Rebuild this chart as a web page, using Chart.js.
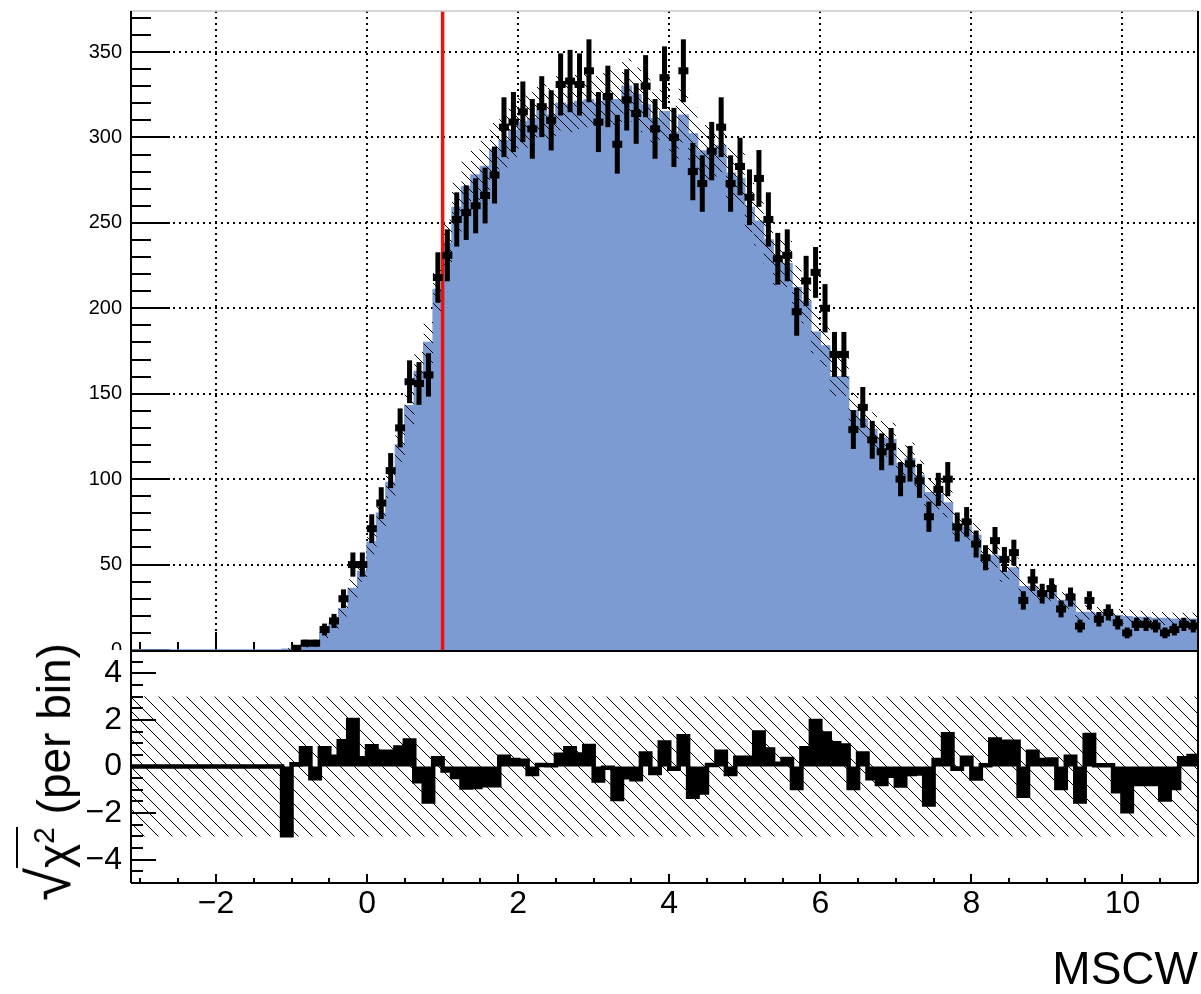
<!DOCTYPE html>
<html>
<head>
<meta charset="utf-8">
<script src="https://cdn.jsdelivr.net/npm/chart.js@4.4.0/dist/chart.umd.min.js"></script>
<style>
  body { margin: 0; background: #fff; }
  #wrap { position: relative; width: 1201px; height: 994px; overflow: hidden; background: #fff; }
  #top { position: absolute; left: 0; top: 0; }
  #bot { position: absolute; left: 0; top: 650px; }
  #yt { position: absolute; left: 54px; top: 772px; width: 0; height: 0; }
  #ytitle {
    position: absolute; left: 0; top: 0;
    transform: translate(-50%, -50%) rotate(-90deg);
    white-space: nowrap; color: #000;
    font-family: 'Liberation Sans', Arial, Helvetica, sans-serif;
    font-size: 46px; line-height: 46px;
  }
  #ytitle .rad { font-size: 60px; line-height: 0; }
  #ytitle .ov { border-top: 2.5px solid #000; padding-top: 10px; }
  #ytitle sup { font-size: 30px; line-height: 0; }
</style>
</head>
<body>
<div id="wrap">
  <canvas id="top" width="1201" height="650"></canvas>
  <canvas id="bot" width="1201" height="344"></canvas>
  <div id="yt"><div id="ytitle"><span class="rad">√</span><span class="ov">χ<sup>2</sup></span> (per bin)</div></div>
</div>
<script>
/* === BINNING / AXES === */
const BIN_LO = -3.125, BIN_W = 0.125;
const X_MIN = -3.125, X_MAX = 11;
const Y_MAX = 374;
const CHI_MIN = -5, CHI_MAX = 5, CHI_BAND = 3;
const CUT_X = 1.0;

const xTicks = [-2, 0, 2, 4, 6, 8, 10];
const yTicks = [0, 50, 100, 150, 200, 250, 300, 350];
const chiTicks = [-4, -2, 0, 2, 4];

/* === HISTOGRAMS (one entry per 0.125 bin from -3.125) === */
const counts = [
  0, 0, 0, 0, 0, 0, 0, 0, 0, 0, 0, 0, 0, 0, 0, 0,
  0, 1, 4, 4, 12, 17, 30, 50, 50, 71,
  86, 105, 130, 157, 156, 161, 218, 231, 252, 256,
  260, 266, 278, 306, 309, 315, 305, 318, 310, 331,
  333, 331, 339, 309, 324, 296, 322, 314, 330, 305,
  335, 300, 339, 280, 273, 292, 306, 273, 283, 265,
  276, 252, 229, 231, 198, 216, 221, 200, 173, 173,
  129, 142, 123, 116, 119, 100, 109, 99, 78, 94,
  100, 72, 75, 62, 54, 64, 53, 57, 29, 41,
  33, 36, 24, 31, 14, 29, 18, 22, 16, 10,
  15, 15, 14, 10, 12, 15, 14
];

const model = [
  0, 0, 0, 0, 0, 0, 0, 0, 0, 0, 0, 0, 0, 0, 0, 0,
  0.5, 2, 3, 4, 10, 16, 24, 36, 46, 63,
  80, 98, 120, 143, 163, 180, 211, 238, 259, 271,
  278, 283, 293, 298, 304, 309, 311, 316, 313, 320,
  319, 321, 322, 320, 325, 322, 330, 325, 319, 311,
  315, 303, 313, 302, 292, 291, 295, 279, 276, 259,
  251, 240, 227, 226, 212, 204, 186, 178, 160, 160,
  140, 135, 129, 124, 123, 109, 112, 102, 92, 91,
  86, 73, 72, 67, 54, 55, 46, 48, 37, 37,
  32, 34, 29, 29, 22, 22, 21, 21, 20, 19.5,
  19, 19, 18.5, 18.5, 18, 18, 18
];

const modelErr = [
  0, 0, 0, 0, 0, 0, 0, 0, 0, 0, 0, 0, 0, 0, 0, 0,
  0.5, 1, 1.5, 2, 3, 3.6, 4.4, 5.4, 6, 7,
  8, 9, 10, 11, 11.5, 12, 13, 14, 14.5, 15,
  15, 15, 15.5, 15.5, 15.5, 15.5, 15.5, 16, 16, 16,
  16, 16, 16, 16, 16, 16, 16, 16, 16, 15.5,
  16, 15.5, 16, 15.5, 15.3, 15.3, 15.4, 15, 15, 14.5,
  14.3, 14, 13.5, 13.5, 13, 12.9, 12.3, 12, 11.4, 11.4,
  10.6, 10.5, 10.2, 10, 10, 9.4, 9.5, 9, 8.6, 8.6,
  8.3, 7.7, 7.6, 7.4, 6.6, 6.7, 6.1, 6.2, 5.5, 5.5,
  5.1, 5.2, 4.8, 4.8, 4.2, 4.2, 4.1, 4.1, 4, 4,
  3.9, 3.9, 3.8, 3.8, 3.8, 3.8, 3.8
];

const chi = [
  0, 0, 0, 0, 0, 0, 0, 0, 0, 0, 0, 0, 0, 0, 0, 0,
  -2.95, 0.1, 0.78, -0.5, 0.78, 0.42, 1.08, 2.0, 0.35, 0.87,
  0.63, 0.63, 0.82, 1.12, -0.63, -1.5, 0.35, -0.17, -0.45, -0.9,
  -0.88, -0.8, -0.8, 0.42, 0.28, 0.25, -0.32, 0.06, 0.05, 0.5,
  0.78, 0.52, 0.88, -0.6, -0.05, -1.4, -0.46, -0.55, 0.56, -0.28,
  1.03, -0.1, 1.3, -1.3, -1.12, 0.06, 0.63, -0.32, 0.38, 0.38,
  1.46, 0.73, 0.12, 0.32, -0.92, 0.78, 1.95, 1.42, 1.0, 0.9,
  -0.92, 0.56, -0.5, -0.75, -0.4, -0.82, -0.32, -0.3, -1.63, 0.28,
  1.38, -0.1, 0.38, -0.52, 0.05, 1.16, 1.06, 1.06, -1.25, 0.63,
  0.28, 0.3, -0.92, 0.42, -1.5, 1.35, 0.05, 0.05, -1.06, -1.92,
  -0.75, -0.75, -0.75, -1.42, -0.92, 0.35, 0.45
];

const FONT = "'Liberation Sans', Arial, Helvetica, sans-serif";
const BLUE = '#7b9bd2';

/* === HELPERS === */
// one point per left bin edge, plus the closing right edge;
// stepped:true keeps each bin's value flat across [edge, next edge]
function steps(vals){
  const pts = vals.map((v, i) => ({x: BIN_LO + i*BIN_W, y: v}));
  pts.push({x: BIN_LO + vals.length*BIN_W, y: vals[vals.length-1]});
  return pts;
}

function hatch(step){
  const c = document.createElement('canvas');
  c.width = step; c.height = step;
  const g = c.getContext('2d');
  g.strokeStyle = '#000'; g.lineWidth = 1;
  g.beginPath();
  g.moveTo(0, 0); g.lineTo(step, step);
  g.moveTo(-2, step-2); g.lineTo(2, step+2);
  g.moveTo(step-2, -2); g.lineTo(step+2, 2);
  g.stroke();
  return g.createPattern(c, 'repeat');
}

function minusLabel(v){ return v < 0 ? '\u2212' + Math.abs(v) : String(v); }

const noTooltips = {legend: {display: false}, tooltip: {enabled: false}};

/* === TOP PAD: ticks, cut line, data points, frame === */
const topDeco = {
  id: 'topDeco',
  beforeDatasetsDraw(chart){
    const {ctx, chartArea: a, scales: {x, y}} = chart;
    ctx.save();
    ctx.strokeStyle = '#000'; ctx.lineWidth = 2;
    ctx.beginPath();
    for (let k = 0; k*10 <= y.max; k++){
      const py = Math.round(y.getPixelForValue(k*10));
      const len = k % 5 === 0 ? 39 : 20;
      ctx.moveTo(a.left, py); ctx.lineTo(a.left + len, py);
    }
    for (let k = Math.ceil(x.min*2); k/2 <= x.max; k++){
      const px = Math.round(x.getPixelForValue(k/2));
      const len = k % 4 === 0 ? 18 : 8;
      ctx.moveTo(px, a.bottom); ctx.lineTo(px, a.bottom - len);
    }
    ctx.stroke();
    ctx.restore();
  },
  afterDatasetsDraw(chart){
    const {ctx, chartArea: a, scales: {x, y}} = chart;
    ctx.save();
    // analysis cut
    const cx = x.getPixelForValue(CUT_X);
    ctx.strokeStyle = '#ee1111'; ctx.lineWidth = 3.5;
    ctx.beginPath(); ctx.moveTo(cx, a.top); ctx.lineTo(cx, a.bottom); ctx.stroke();

    // data with sqrt(N) error bars
    ctx.fillStyle = '#000';
    counts.forEach((n, i) => {
      if (!n) return;
      const px = x.getPixelForValue(BIN_LO + (i + 0.5)*BIN_W);
      const e = Math.sqrt(n);
      const yHi = y.getPixelForValue(n + e), yLo = y.getPixelForValue(n - e);
      ctx.fillRect(px - 2.5, yHi, 5, yLo - yHi);
      ctx.fillRect(px - 5, y.getPixelForValue(n) - 3.5, 10, 7);
    });

    // frame
    ctx.lineWidth = 1.5; ctx.strokeStyle = '#c8c8c8';
    ctx.beginPath(); ctx.moveTo(a.left, a.top); ctx.lineTo(a.right, a.top); ctx.stroke();
    ctx.lineWidth = 2; ctx.strokeStyle = '#000';
    ctx.beginPath();
    ctx.moveTo(a.left, a.top); ctx.lineTo(a.left, a.bottom);
    ctx.moveTo(a.right, a.top); ctx.lineTo(a.right, a.bottom);
    ctx.stroke();
    ctx.restore();
  }
};

/* === BOTTOM PAD: ticks and frame === */
const botDeco = {
  id: 'botDeco',
  afterDatasetsDraw(chart){
    const {ctx, chartArea: a, scales: {x, y}} = chart;
    ctx.save();
    ctx.strokeStyle = '#000'; ctx.lineWidth = 2;
    ctx.beginPath();
    for (let k = CHI_MIN*2; k <= CHI_MAX*2; k++){
      const py = Math.round(y.getPixelForValue(k/2));
      const len = k % 4 === 0 ? 25 : 12;
      ctx.moveTo(a.left, py); ctx.lineTo(a.left + len, py);
    }
    for (let k = Math.ceil(x.min*2); k/2 <= x.max; k++){
      const px = Math.round(x.getPixelForValue(k/2));
      const len = k % 4 === 0 ? 9 : 5;
      ctx.moveTo(px, a.bottom); ctx.lineTo(px, a.bottom - len);
    }
    // frame
    ctx.moveTo(a.left, a.top + 1); ctx.lineTo(a.right, a.top + 1);
    ctx.moveTo(a.left, a.top); ctx.lineTo(a.left, a.bottom);
    ctx.moveTo(a.left, a.bottom); ctx.lineTo(a.right, a.bottom);
    ctx.moveTo(a.right, a.top); ctx.lineTo(a.right, a.bottom);
    ctx.stroke();
    ctx.restore();
  }
};

/* === TOP CHART: MSCW distribution === */
new Chart(document.getElementById('top'), {
  type: 'line',
  data: {
    datasets: [
      { label: 'model', data: steps(model), stepped: true, fill: 'origin',
        backgroundColor: BLUE, borderColor: BLUE, borderWidth: 1.5, pointRadius: 0, order: 3 },
      { label: 'model up', data: steps(model.map((m, i) => m + modelErr[i])), stepped: true, fill: '+1',
        backgroundColor: hatch(10), borderWidth: 0, pointRadius: 0, order: 2 },
      { label: 'model down', data: steps(model.map((m, i) => Math.max(0, m - modelErr[i]))), stepped: true, fill: false,
        borderWidth: 0, pointRadius: 0, order: 2 }
    ]
  },
  options: {
    responsive: false, animation: false,
    layout: {padding: {top: 11, right: 3, left: 0, bottom: 0}},
    plugins: noTooltips,
    scales: {
      x: {
        type: 'linear', min: X_MIN, max: X_MAX,
        afterBuildTicks: s => { s.ticks = xTicks.map(v => ({value: v})); },
        ticks: {display: false},
        grid: {color: '#000', lineWidth: 2, drawTicks: false},
        border: {display: false, dash: [2, 4]},
        afterFit: s => { s.height = 0; s.paddingLeft = 0; s.paddingRight = 0; }
      },
      y: {
        min: 0, max: Y_MAX,
        afterBuildTicks: s => { s.ticks = yTicks.map(v => ({value: v})); },
        ticks: {font: {family: FONT, size: 20}, color: '#000', padding: 9, autoSkip: false},
        grid: {color: c => (c.tick && c.tick.value === 0) ? 'rgba(0,0,0,0)' : '#000', lineWidth: 2, drawTicks: false},
        border: {display: false, dash: [2, 4]},
        afterFit: s => { s.width = 131; s.paddingTop = 0; s.paddingBottom = 0; }
      }
    }
  },
  plugins: [topDeco]
});

/* === BOTTOM CHART: signed sqrt(chi2) per bin === */
new Chart(document.getElementById('bot'), {
  type: 'line',
  data: {
    datasets: [
      { label: 'band up', data: [{x: X_MIN, y: CHI_BAND}, {x: X_MAX, y: CHI_BAND}], fill: '+1',
        backgroundColor: hatch(14), borderWidth: 0, pointRadius: 0, order: 2 },
      { label: 'band down', data: [{x: X_MIN, y: -CHI_BAND}, {x: X_MAX, y: -CHI_BAND}], fill: false,
        borderWidth: 0, pointRadius: 0, order: 2 },
      { label: 'chi', data: steps(chi), stepped: true, fill: 'origin',
        backgroundColor: '#000', borderColor: '#000', borderWidth: 4.5, pointRadius: 0, order: 1 }
    ]
  },
  options: {
    responsive: false, animation: false,
    layout: {padding: {top: 0, right: 3, left: 0, bottom: 0}},
    plugins: noTooltips,
    scales: {
      x: {
        type: 'linear', min: X_MIN, max: X_MAX,
        afterBuildTicks: s => { s.ticks = xTicks.map(v => ({value: v})); },
        ticks: {font: {family: FONT, size: 32}, color: '#000', padding: 2, maxRotation: 0, autoSkip: false, callback: minusLabel},
        grid: {display: false, drawTicks: false},
        border: {display: false},
        title: {display: true, text: 'MSCW', align: 'end', color: '#000',
                font: {family: FONT, size: 46, lineHeight: 1}, padding: {top: 0, bottom: 0}},
        afterFit: s => { s.height = 111; s.paddingLeft = 0; s.paddingRight = 0; }
      },
      y: {
        min: CHI_MIN, max: CHI_MAX,
        afterBuildTicks: s => { s.ticks = chiTicks.map(v => ({value: v})); },
        ticks: {font: {family: FONT, size: 32}, color: '#000', padding: 9, autoSkip: false, callback: minusLabel},
        grid: {display: false, drawTicks: false},
        border: {display: false},
        afterFit: s => { s.width = 131; s.paddingTop = 0; s.paddingBottom = 0; }
      }
    }
  },
  plugins: [botDeco]
});
</script>
</body>
</html>
